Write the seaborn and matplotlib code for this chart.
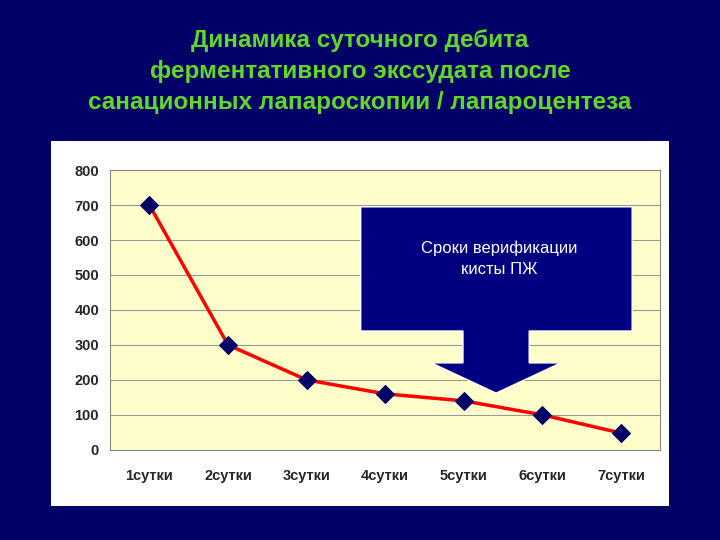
import matplotlib.pyplot as plt
import seaborn as sns
from matplotlib.patches import Rectangle, Polygon

days = ['1сутки', '2сутки', '3сутки', '4сутки', '5сутки', '6сутки', '7сутки']
debit = [700, 300, 200, 160, 140, 100, 48]
title = 'Динамика суточного дебита\nферментативного экссудата после\nсанационных лапароскопии / лапароцентеза'
callout = 'Сроки верификации\nкисты ПЖ'

sns.set_style('white')
plt.rcParams['font.family'] = ['Liberation Sans', 'DejaVu Sans']

fig = plt.figure(figsize=(7.2, 5.4), dpi=100)
fig.patch.set_facecolor('#000066')

# white panel behind the chart
fig.patches.append(Rectangle((0.071, 0.063), 0.858, 0.676, transform=fig.transFigure,
                             facecolor='white', edgecolor='none', zorder=-1))

fig.text(0.5, 0.868, title, ha='center', va='center', color='#5FD82A',
         fontsize=17.5, fontweight='bold', linespacing=1.45)

ax = fig.add_axes([0.153, 0.167, 0.764, 0.518])
ax.set_zorder(1)
ax.set_facecolor('#FFFFCC')
sns.lineplot(x=days, y=debit, sort=False, ax=ax, color='red', linewidth=2.5,
             marker='D', markersize=9, markerfacecolor='#000066', markeredgecolor='#000066')
ax.set_ylim(0, 800)
ax.set_xlim(-0.5, 6.5)
ax.set_yticks(range(0, 801, 100))
ax.yaxis.grid(True, color='#999999', linewidth=0.8)
ax.set_axisbelow(True)
for s in ax.spines.values():
    s.set_color('#888888')
ax.tick_params(axis='both', labelsize=10.5, length=0, pad=8)
for lbl in ax.get_xticklabels() + ax.get_yticklabels():
    lbl.set_fontweight('bold')
ax.tick_params(axis='x', pad=14)

# callout box with arrow
fig.patches.append(Polygon([(0.501, 0.387), (0.501, 0.617), (0.878, 0.617), (0.878, 0.387),
                            (0.735, 0.387), (0.735, 0.328), (0.779, 0.328), (0.689, 0.272),
                            (0.599, 0.328), (0.643, 0.328), (0.643, 0.387)],
                           closed=True, transform=fig.transFigure,
                           facecolor='#000080', edgecolor='white', linewidth=1, zorder=5))
fig.text(0.694, 0.52, callout, ha='center', va='center', color='white',
         fontsize=12, linespacing=1.5, zorder=6)

fig.savefig('out.png', dpi=100, facecolor=fig.get_facecolor())
